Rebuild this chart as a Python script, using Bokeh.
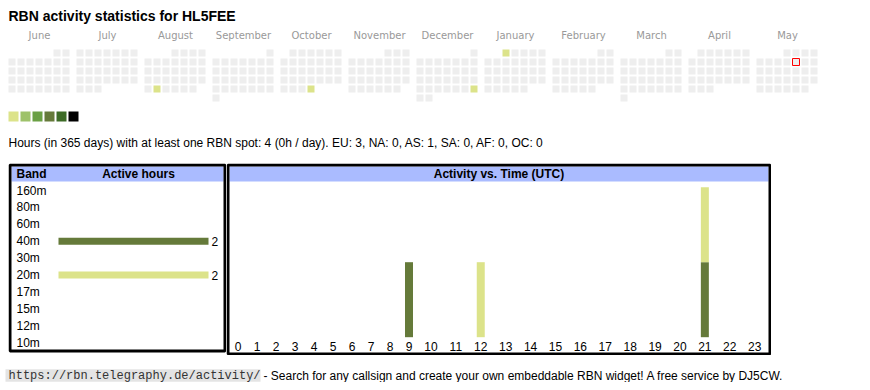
import calendar
import datetime
from bokeh.plotting import figure
from bokeh.models import Range1d, ColumnDataSource, Spacer
from bokeh.layouts import column, row
from bokeh.core.properties import value
from bokeh.embed import file_html
from bokeh.resources import INLINE

# ---------------- data ----------------
callsign = "HL5FEE"
months = [(2024, 6), (2024, 7), (2024, 8), (2024, 9), (2024, 10), (2024, 11),
          (2024, 12), (2025, 1), (2025, 2), (2025, 3), (2025, 4), (2025, 5)]
month_names = ["June", "July", "August", "September", "October", "November",
               "December", "January", "February", "March", "April", "May"]
active_days = ["2024-08-27", "2024-10-31", "2024-12-29", "2025-01-01"]
active_levels = [1, 1, 1, 1]
today = "2025-05-09"
palette = ["#dce38a", "#9ec26a", "#6aa044", "#657a3a", "#3d6b26", "#000000"]
empty_color = "#eeeeee"

total_hours = 4
days_in_period = 365
hours_per_day = 0
continents = ["EU", "NA", "AS", "SA", "AF", "OC"]
continent_hours = [3, 0, 1, 0, 0, 0]

bands = ["160m", "80m", "60m", "40m", "30m", "20m", "17m", "15m", "12m", "10m"]
band_hours = [0, 0, 0, 2, 0, 2, 0, 0, 0, 0]
band_colors = {"40m": "#657a3a", "20m": "#dce38a"}

hour_labels = [str(h) for h in range(24)]
act_40m = [0, 0, 0, 0, 0, 0, 0, 0, 0, 1, 0, 0, 0, 0, 0, 0, 0, 0, 0, 0, 0, 1, 0, 0]
act_20m = [0, 0, 0, 0, 0, 0, 0, 0, 0, 0, 0, 0, 1, 0, 0, 0, 0, 0, 0, 0, 0, 1, 0, 0]

footer_url = "https://rbn.telegraphy.de/activity/"
footer_text = "- Search for any callsign and create your own embeddable RBN widget! A free service by DJ5CW."

SANS = value("Liberation Sans")
HEADER_BLUE = "#aabbff"
M = 8  # page margin


def base_fig(w, h, xr, yr, **kw):
    p = figure(width=w, height=h, x_range=xr, y_range=yr, min_border=0,
               toolbar_location=None, output_backend="svg",
               x_axis_location=None, y_axis_location=None,
               outline_line_color=None, background_fill_color="white",
               border_fill_color="white", **kw)
    p.grid.visible = False
    return p


# ---------------- top: title, calendar, legend, summary ----------------
TW, TH = 854, 155
top = base_fig(TW + M, TH + M, Range1d(-M, TW), Range1d(TH, -M))

top.text(x=[0], y=[7.5], text=[f"RBN activity statistics for {callsign}"],
         text_font=SANS, text_font_style="bold", text_font_size="14px",
         text_baseline="middle", text_color="#000000")

BLOCK, CELL, GAP_Y0 = 68, 9, 41
lvl_map = {d: l for d, l in zip(active_days, active_levels)}
cx, cy, cc = [], [], []
tx, ty = [], []
for mi, (yy, mm) in enumerate(months):
    first = datetime.date(yy, mm, 1).weekday()
    nd = calendar.monthrange(yy, mm)[1]
    for d in range(1, nd + 1):
        k = first + d - 1
        x = BLOCK * mi + CELL * (k % 7) + 3.5
        y = GAP_Y0 + CELL * (k // 7) + 3.5
        key = datetime.date(yy, mm, d).isoformat()
        lv = lvl_map.get(key, 0)
        cx.append(x); cy.append(y)
        cc.append(empty_color if lv == 0 else palette[lv - 1])
        if key == today:
            tx.append(x); ty.append(y)

top.rect(x=cx, y=cy, width=7, height=7, fill_color=cc, line_color=None)
top.rect(x=tx, y=ty, width=7, height=7, fill_color=None, line_color="#ff0000", line_width=1)

top.text(x=[BLOCK * i + 31 for i in range(len(month_names))], y=[27] * len(month_names),
         text=month_names, text_font=value("DejaVu Sans"), text_font_size="10px",
         text_align="center", text_baseline="middle", text_color="#999999")

top.quad(left=[12 * i for i in range(len(palette))],
         right=[12 * i + 10 for i in range(len(palette))],
         top=[103] * len(palette), bottom=[113] * len(palette),
         fill_color=palette, line_color=None)

summary = (f"Hours (in {days_in_period} days) with at least one RBN spot: {total_hours} "
           f"({hours_per_day}h / day). "
           + ", ".join(f"{c}: {v}" for c, v in zip(continents, continent_hours)))
top.text(x=[0], y=[134], text=[summary], text_font=SANS, text_font_size="12px",
         text_baseline="middle", text_color="#000000")

# ---------------- band panel ----------------
BW, BH = 218, 192
ROW0, PITCH = 27, 16.9
BAR0, PXU = 50, 75
band = base_fig(BW, BH, Range1d(-BAR0 / PXU, (BW - BAR0) / PXU),
                Range1d((BH - ROW0) / PITCH, -ROW0 / PITCH))
band.extra_x_ranges = {"px": Range1d(0, BW)}
band.extra_y_ranges = {"px": Range1d(BH, 0)}

band.quad(left=[3], right=[215], top=[3], bottom=[18], fill_color=HEADER_BLUE,
          line_color=None, x_range_name="px", y_range_name="px")
band.quad(left=[1.5], right=[BW - 1.5], top=[1.5], bottom=[187.5], fill_color=None,
          line_color="black", line_width=3, x_range_name="px", y_range_name="px")
band.text(x=[8], y=[10.5], text=["Band"], text_font=SANS, text_font_style="bold",
          text_font_size="12px", text_baseline="middle", x_range_name="px", y_range_name="px")
band.text(x=[130], y=[10.5], text=["Active hours"], text_font=SANS, text_font_style="bold",
          text_font_size="12px", text_baseline="middle", text_align="center",
          x_range_name="px", y_range_name="px")

idx = list(range(len(bands)))
band.text(x=[8] * len(bands), y=idx, text=bands, text_font=SANS, text_font_size="12px",
          text_baseline="middle", text_color="#000000", x_range_name="px")

nz = [i for i, v in enumerate(band_hours) if v > 0]
bsrc = ColumnDataSource(dict(y=nz, v=[band_hours[i] for i in nz],
                             c=[band_colors[bands[i]] for i in nz],
                             t=[str(band_hours[i]) for i in nz]))
band.hbar(y="y", left=0, right="v", height=7 / PITCH, fill_color="c", line_color=None, source=bsrc)
band.text(x="v", y="y", text="t", x_offset=3, text_font=SANS, text_font_size="12px",
          text_baseline="middle", text_color="#000000", source=bsrc)

# ---------------- activity panel ----------------
AW, AH = 545, 192
BASE_Y = 173.7
act = base_fig(AW, AH, Range1d(0, AW), Range1d(-(AH - BASE_Y) / PXU, BASE_Y / PXU))
act.extra_y_ranges = {"px": Range1d(AH, 0)}

act.quad(left=[3], right=[AW - 3], top=[3], bottom=[18], fill_color=HEADER_BLUE,
         line_color=None, y_range_name="px")
act.quad(left=[1.5], right=[AW - 1.5], top=[1.5], bottom=[AH - 1.5], fill_color=None,
         line_color="black", line_width=3, y_range_name="px")
act.text(x=[AW / 2], y=[10.5], text=["Activity vs. Time (UTC)"], text_font=SANS,
         text_font_style="bold", text_font_size="12px", text_baseline="middle",
         text_align="center", y_range_name="px")

col_w = [13.1 + 5.9 * len(s) for s in hour_labels]
hx = [11.5]
for i in range(1, len(hour_labels)):
    hx.append(hx[-1] + (col_w[i - 1] + col_w[i]) / 2)

asrc = ColumnDataSource(dict(x=hx, b40=act_40m, b20=act_20m))
act.vbar_stack(["b40", "b20"], x="x", width=8, fill_color=[band_colors["40m"], band_colors["20m"]],
               line_color=None, source=asrc)
act.text(x=hx, y=[182.5] * len(hx), text=hour_labels, text_font=SANS, text_font_size="12px",
         text_align="center", text_baseline="middle", text_color="#000000", y_range_name="px")

# ---------------- footer ----------------
FW, FH = 854, 27
foot = base_fig(FW + M, FH, Range1d(-M, FW), Range1d(FH, 0))
foot.quad(left=[-3], right=[252], top=[13.7], bottom=[26.3], fill_color="#e4e4e4", line_color=None)
foot.text(x=[0], y=[20.5], text=[footer_url], text_font=value("Liberation Mono"),
          text_font_size="12px", text_baseline="middle", text_color="#333333")
foot.text(x=[255], y=[20.5], text=[footer_text], text_font=SANS, text_font_size="12px",
          text_baseline="middle", text_color="#000000")

layout = column(top, row(Spacer(width=M, height=BH), band, act, spacing=0), foot, spacing=0)

with open("out.html", "w") as f:
    f.write(file_html(layout, INLINE))
